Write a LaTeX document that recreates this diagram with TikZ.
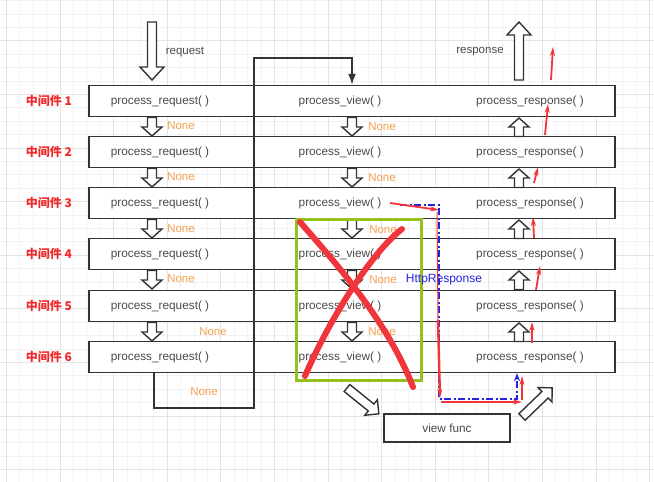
\documentclass[tikz,border=0pt]{standalone}
\usepackage{fontspec}
\setmainfont{Liberation Sans}
\newfontfamily\cjk{Noto Sans CJK SC}
\usetikzlibrary{arrows.meta}
\definecolor{boxline}{HTML}{333333}
\definecolor{txtgray}{HTML}{4A4A4A}
\definecolor{noneor}{HTML}{F5A04E}
\definecolor{lblred}{HTML}{F02A2A}
\definecolor{xgreen}{HTML}{95C11F}
\definecolor{xred}{HTML}{F0353B}
\definecolor{hblue}{HTML}{2424E0}
\definecolor{gridminor}{HTML}{F3F3F3}
\definecolor{gridmajor}{HTML}{E4E4E4}
\newcommand\harrow[7]{%
  \begin{scope}[shift={(#1,#2)},rotate=#4]
    \draw[harr] (0,-#5) -- ({#3-#7},-#5) -- ({#3-#7},-#6) -- (#3,0) -- ({#3-#7},#6) -- ({#3-#7},#5) -- (0,#5) -- cycle;
  \end{scope}}
\tikzset{
  minorline/.style={gridminor, line width=0.8pt},
  majorline/.style={gridmajor, line width=1pt},
  rowbox/.style={draw=boxline, fill=white, line width=1.5pt, minimum width=526pt, minimum height=31pt, inner sep=0pt},
  ptxt/.style={text=txtgray, font=\fontsize{11.8}{13}\selectfont, inner sep=0pt},
  lbl/.style={text=lblred, font=\fontsize{12}{14}\selectfont\cjk\bfseries, inner sep=0pt},
  nonetxt/.style={text=noneor, font=\fontsize{11.5}{13}\selectfont, inner sep=0pt},
  harr/.style={draw=boxline, fill=white, line width=1.4pt, line join=miter},
  loopline/.style={draw=boxline, line width=1.5pt},
  redarr/.style={draw=xred, line width=1.8pt, -{Stealth[length=9pt,width=5pt]}},
  xstroke/.style={draw=xred, line width=6pt, line cap=round},
}
\begin{document}
\begin{tikzpicture}[x=1pt,y=-1pt]
\useasboundingbox (0,0) rectangle (654,482);
\fill[white] (0,0) rectangle (654,482);
% grid
\foreach \k in {0,...,48} \draw[minorline] ({6.4+13.4*\k},0) -- ({6.4+13.4*\k},482);
\foreach \k in {0,...,35} \draw[minorline] (0,{0.6+13.4*\k}) -- (654,{0.6+13.4*\k});
\foreach \k in {0,...,12} \draw[majorline] ({6.4+53.6*\k},0) -- ({6.4+53.6*\k},482);
\foreach \k in {0,...,8} \draw[majorline] (0,{40.8+53.6*\k}) -- (654,{40.8+53.6*\k});
% rows
\foreach \i/\y in {1/101,2/152,3/203,4/254,5/306,6/357} {
  \node[rowbox] (r\i) at (352,\y) {};
  \node[lbl] (m\i) at (49,\y) {中间件 \i};
  \node[ptxt] (q\i) at (160,\y) {process\_request( )};
  \node[ptxt] (v\i) at (340,\y) {process\_view( )};
  \node[ptxt] (s\i) at (530,\y) {process\_response( )};
}
% top labels and big arrows
\node[ptxt, font=\fontsize{11.5}{13}\selectfont] (req) at (185,52) {request};
\node[ptxt, font=\fontsize{11.5}{13}\selectfont] (resp) at (480,52) {response};
\harrow{152}{22}{58}{-90}{4.5}{12}{13}
\harrow{519}{80}{58}{90}{4.5}{12}{13}
% small hollow arrows between rows
\foreach \y in {117.5,168.5,219.5,270.5,322.5} {
  \harrow{152}{\y}{18.5}{-90}{4.5}{10}{9}
  \harrow{352}{\y}{18.5}{-90}{4.5}{10}{9}
  \harrow{519}{\y+19}{18.5}{90}{4.5}{10}{9}
}
% loop connector
\coordinate (c154) at (154,0);
\draw[loopline, -{Latex[length=11pt,width=8pt]}] (r6.south -| c154) -- (154,408) -- (254,408) -- (254,58) -- (352,58) -- (r1.north);
% None labels
\foreach \i/\x/\y in {n1/181/126,n2/181/177,n3/181/229,n4/181/279,n5/213/332,n6/204/392,w1/382/127,w2/382/178,w3/383/230,w4/383/280,w5/382/332} {
  \node[nonetxt] (\i) at (\x,\y) {None};
}
% view func
\node[draw=boxline, fill=white, line width=1.5pt, minimum width=126pt, minimum height=28pt, inner sep=0pt] (vf) at (447,428) {};
\node[ptxt] (vft) at (447,428) {view func};
\harrow{347}{388}{41}{-39}{4.5}{10}{10}
\harrow{522}{417}{42}{44}{4.5}{10}{10}
% green rectangle
\draw[xgreen, line width=3pt] (296,219) rectangle (421,380);
% blue path
\coordinate (b0) at (400,205);
\coordinate (b1) at (439,205);
\coordinate (b2) at (439,399);
\coordinate (b3) at (517,399);
\draw[hblue, line width=1.8pt, dash pattern=on 7pt off 2.5pt on 2pt off 2.5pt, -{Stealth[length=8pt,width=6pt]}] (b0) -- (b1) -- (b2) -- (b3) -- (r6.south -| b3);
\node[text=hblue, font=\fontsize{12}{14}\selectfont, inner sep=0pt] (http) at (444,280) {HttpResponse};
% red X
\draw[xstroke] (300,222) .. controls (335,262) and (388,322) .. (413,387);
\draw[xstroke] (305,376) .. controls (330,318) and (372,252) .. (402,229);
% red arrows
\coordinate (ra0) at (390,203);
\coordinate (ra1) at (439,210);
\draw[redarr] (ra0) -- (ra1);
\draw[xred, line width=1pt] (437,212) -- (438,320);
\coordinate (rb0) at (438,320);
\coordinate (rb1) at (440,398);
\draw[redarr, line width=2.4pt] (rb0) -- (rb1);
\coordinate (rc0) at (441,402);
\coordinate (rc1) at (522,402);
\draw[redarr, line width=2.4pt] (rc0) -- (rc1);
\coordinate (rd0) at (522,400);
\coordinate (rd1) at (522,376);
\draw[redarr] (rd0) -- (rd1);
\foreach \a/\b/\c/\d in {551/80/553/47, 545/135/548/104, 534/183/538/167, 534/238/533/217, 536/290/540/266, 532/343/532/322} {
  \draw[redarr] (\a,\b) -- (\c,\d);
}
\end{tikzpicture}
\end{document}
